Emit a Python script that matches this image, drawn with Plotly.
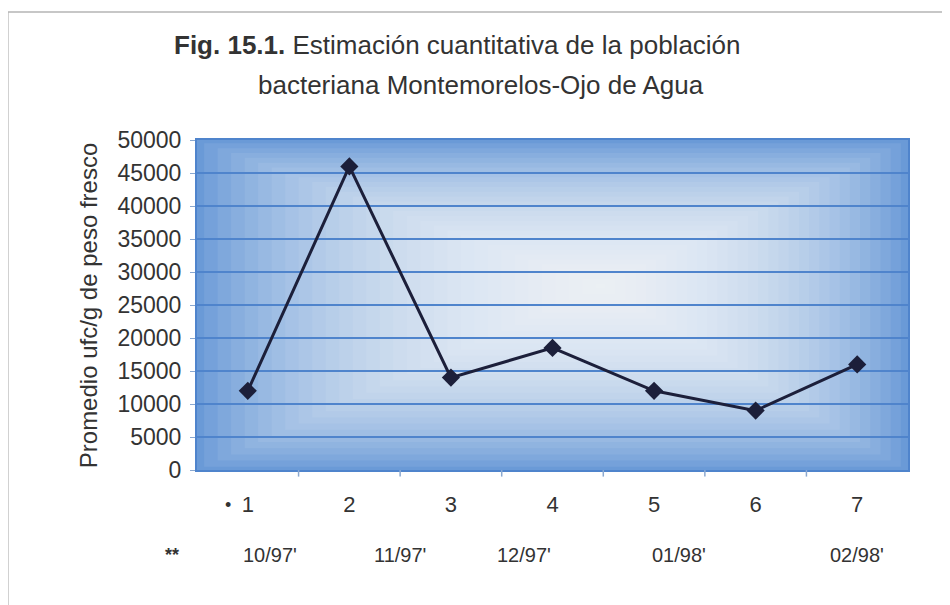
import plotly.graph_objects as go

# data
muestreos = ["1", "2", "3", "4", "5", "6", "7"]
promedio_ufc = [12000, 46000, 14000, 18500, 12000, 9000, 16000]
fechas = ["10/97'", "11/97'", "12/97'", "01/98'", "02/98'"]
y_ticks = list(range(0, 50001, 5000))

# layout-only positions (category units) for the date row
fecha_pos = [0.22, 1.5, 2.72, 4.25, 6.0]

FONT = "Liberation Sans, Arial, sans-serif"
TEXT = "#333333"
EDGE_BLUE = "#6a9ad7"
GRID_BLUE = "#4f84cc"

fig = go.Figure()

fig.add_trace(
    go.Scatter(
        x=list(range(len(muestreos))),
        y=promedio_ufc,
        mode="lines+markers",
        line=dict(color="#1c1f3a", width=3),
        marker=dict(symbol="diamond", size=14, color="#1c1f3a"),
        showlegend=False,
    )
)

# light centre of the plot background, faked with stacked white boxes
shapes = []
n = 30
cx, cy = 0.57, 0.56
for i in range(n):
    f = i / n
    shapes.append(
        dict(
            type="rect",
            xref="x domain",
            yref="y domain",
            x0=cx - cx * (1 - f) + 0.01,
            x1=cx + (1 - cx) * (1 - f) - 0.01,
            y0=cy - cy * (1 - f) + 0.01,
            y1=cy + (1 - cy) * (1 - f) - 0.01,
            fillcolor="white",
            opacity=0.075,
            line=dict(width=0),
            layer="below",
        )
    )

# outer frame of the figure
shapes.append(
    dict(
        type="rect",
        xref="paper",
        yref="paper",
        x0=-0.266,
        x1=1.2,
        y0=-0.6,
        y1=1.388,
        line=dict(color="#b5b5b5", width=1.5),
        layer="below",
    )
)

annotations = [
    dict(
        text="<b>Fig. 15.1.</b> Estimación cuantitativa de la población",
        xref="paper", yref="paper",
        x=0.367, y=1.288,
        xanchor="center", yanchor="middle",
        showarrow=False,
        font=dict(family=FONT, size=26, color=TEXT),
    ),
    dict(
        text="bacteriana Montemorelos-Ojo de Agua",
        xref="paper", yref="paper",
        x=0.40, y=1.167,
        xanchor="center", yanchor="middle",
        showarrow=False,
        font=dict(family=FONT, size=26, color=TEXT),
    ),
    dict(
        text="Promedio ufc/g de peso fresco",
        xref="paper", yref="paper",
        x=-0.153, y=0.5,
        textangle=-90,
        xanchor="center", yanchor="middle",
        showarrow=False,
        font=dict(family=FONT, size=24, color=TEXT),
    ),
    dict(
        text="•", xref="paper", yref="paper", x=0.044, y=-0.106,
        xanchor="center", yanchor="middle",
        showarrow=False, font=dict(family=FONT, size=18, color=TEXT),
    ),
    dict(
        text="<b>**</b>", xref="paper", yref="paper", x=-0.035, y=-0.258,
        xanchor="center", yanchor="middle",
        showarrow=False, font=dict(family=FONT, size=18, color=TEXT),
    ),
]
for pos, f in zip(fecha_pos, fechas):
    annotations.append(
        dict(
            text=f, xref="x", yref="paper", x=pos, y=-0.258,
            xanchor="center", yanchor="middle",
            showarrow=False, font=dict(family=FONT, size=20, color=TEXT),
        )
    )

fig.update_layout(
    width=950,
    height=605,
    margin=dict(l=189, r=50, t=132, b=143),
    paper_bgcolor="white",
    plot_bgcolor=EDGE_BLUE,
    font=dict(family=FONT, size=22, color=TEXT),
    shapes=shapes,
    annotations=annotations,
    xaxis=dict(
        type="linear",
        range=[-0.5, 6.5],
        tickmode="array",
        tickvals=list(range(len(muestreos))),
        ticktext=muestreos,
        tickfont=dict(size=22),
        showgrid=False,
        ticks="",
        showline=True,
        linecolor=GRID_BLUE,
        linewidth=2,
        mirror=True,
        ticklabelstandoff=14,
        zeroline=False,
    ),
    yaxis=dict(
        range=[0, 50000],
        tickvals=y_ticks,
        ticktext=[str(v) for v in y_ticks],
        tickfont=dict(size=23),
        showgrid=True,
        gridcolor=GRID_BLUE,
        gridwidth=1.5,
        ticks="outside",
        ticklen=5,
        tickcolor="#8aa8d0",
        showline=True,
        linecolor=GRID_BLUE,
        linewidth=2,
        mirror=True,
        zeroline=False,
        ticklabelstandoff=4,
    ),
)

# tick marks between categories along the bottom axis
for b in range(1, len(muestreos)):
    fig.add_shape(
        type="line", xref="x", yref="paper",
        x0=b - 0.5, x1=b - 0.5, y0=0, y1=-0.02,
        line=dict(color="#8aa8d0", width=1.5),
    )

fig.write_html("out.html")
